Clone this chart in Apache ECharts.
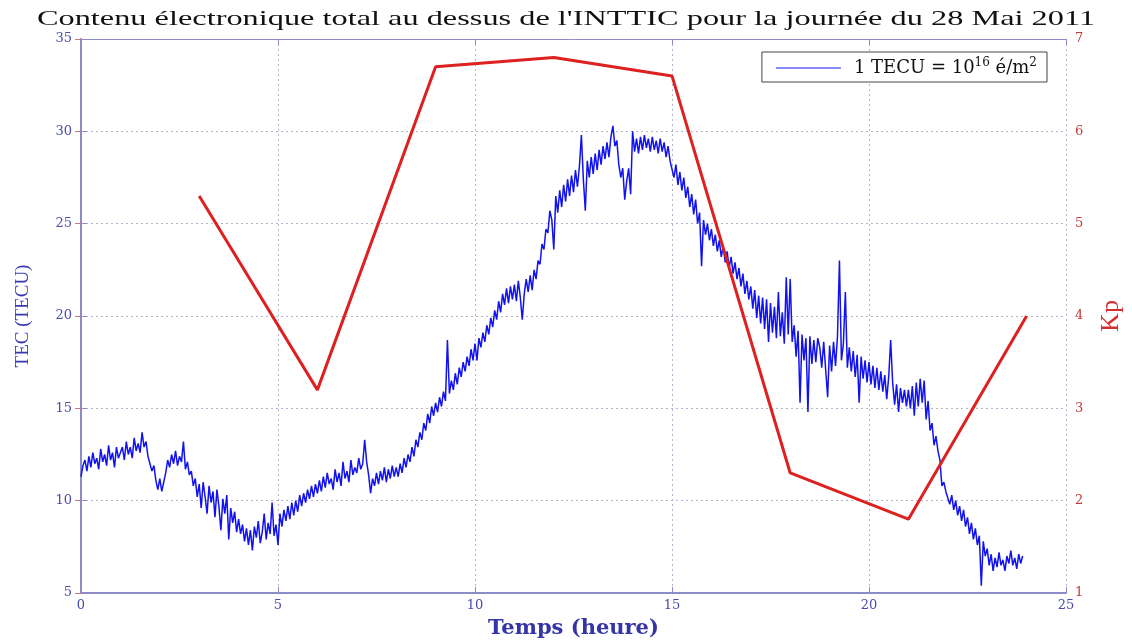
<!DOCTYPE html>
<html>
<head>
<meta charset="utf-8">
<title>TEC INTTIC 28 Mai 2011</title>
<script src="https://cdn.jsdelivr.net/npm/echarts@6/dist/echarts.min.js"></script>
<style>
  html, body { margin: 0; padding: 0; background: #fff; }
  #tec { width: 1132px; height: 644px; }
</style>
</head>
<body>
<div id="tec"></div>
<script>
// TEC relevé toutes les 0.05 h, de 0 h à 23.9 h, une ligne par heure
var tecStart = 0;
var tecStep = 0.05;
var tecValues = [
  11.3, 11.9, 12.2, 11.6, 12.4, 11.8, 12.6, 12.0, 12.3, 11.7, 12.8, 12.1, 12.5, 11.9, 13.0, 12.2, 12.6, 11.8, 12.9, 12.3,
  12.4, 12.9, 12.2, 13.2, 12.5, 12.9, 12.3, 13.4, 12.7, 13.1, 12.6, 13.7, 12.9, 13.2, 12.4, 12.0, 11.6, 11.9, 11.1, 10.6,
  11.2, 10.5, 11.0, 11.5, 12.2, 11.8, 12.5, 12.0, 12.7, 11.9, 12.4, 12.1, 13.2, 11.7, 12.1, 11.4, 11.6, 10.8, 11.2, 10.2,
  10.9, 9.6, 11.0, 10.2, 9.3, 10.8, 9.9, 10.5, 9.1, 10.6, 9.7, 8.4, 10.1, 9.3, 10.3, 7.9, 9.6, 8.8, 9.4, 8.3,
  9.0, 8.2, 8.7, 7.8, 8.5, 7.6, 8.4, 7.3, 8.6, 8.0, 8.9, 7.7, 8.3, 9.3, 7.9, 8.8, 8.2, 9.9, 8.1, 8.7,
  7.6, 9.3, 8.6, 9.5, 8.9, 9.7, 9.0, 9.9, 9.2, 10.0, 9.4, 10.3, 9.7, 10.4, 9.9, 10.6, 10.1, 10.8, 10.2, 10.9,
  10.4, 11.1, 10.5, 11.3, 10.7, 11.5, 10.9, 11.2, 10.6, 11.7, 11.0, 11.5, 10.8, 12.1, 11.2, 11.6, 11.0, 12.2, 11.4, 11.8,
  11.5, 12.3, 11.7, 12.0, 13.3, 12.1, 11.4, 10.4, 11.2, 10.8, 11.5, 10.9, 11.6, 11.1, 11.8, 11.0, 11.7, 11.2, 11.9, 11.3,
  11.8, 11.3, 12.0, 11.5, 12.3, 11.8, 12.5, 12.1, 12.9, 12.4, 13.3, 12.9, 13.7, 13.3, 14.2, 13.8, 14.7, 14.2, 15.1, 14.6,
  15.3, 14.8, 15.6, 15.1, 15.9, 15.4, 18.7, 15.8, 16.5, 16.0, 16.9, 16.3, 17.2, 16.7, 17.5, 17.0, 17.8, 17.3, 18.2, 17.6,
  18.5, 17.6, 18.8, 18.3, 19.1, 18.6, 19.5, 19.0, 19.9, 19.4, 20.3, 19.8, 20.8, 20.2, 21.2, 20.6, 21.5, 20.7, 21.6, 20.9,
  21.7, 20.8, 21.9, 21.0, 19.8, 21.2, 22.0, 21.3, 22.2, 21.4, 22.5, 22.0, 23.0, 22.8, 23.9, 23.6, 24.7, 24.5, 25.7, 25.2,
  23.6, 26.5, 25.6, 26.8, 25.9, 27.1, 26.2, 27.4, 26.5, 27.6, 26.7, 27.9, 27.0, 28.1, 29.8, 27.4, 25.7, 28.4, 27.5, 28.6,
  27.7, 28.8, 27.9, 29.0, 28.2, 29.2, 28.5, 29.4, 28.6, 29.7, 30.3, 29.2, 29.5, 28.2, 27.5, 28.0, 26.3, 27.3, 28.0, 26.6,
  30.0, 28.9, 29.6, 28.8, 29.7, 29.0, 29.8, 29.1, 29.6, 28.9, 29.7, 29.0, 29.5, 28.8, 29.6, 28.9, 29.4, 28.6, 29.2, 28.4,
  28.5, 27.5, 28.2, 27.1, 27.8, 26.8, 27.5, 26.4, 27.0, 25.9, 26.6, 25.5, 26.3, 25.0, 25.6, 22.7, 25.2, 24.4, 25.0, 24.1,
  24.7, 23.8, 24.4, 23.5, 24.1, 23.2, 23.8, 22.9, 23.5, 22.6, 23.2, 22.3, 22.9, 22.0, 22.6, 21.6, 22.3, 21.2, 21.9, 20.9,
  21.6, 20.4, 21.4, 19.9, 21.1, 19.6, 21.0, 19.3, 20.9, 18.6, 20.7, 19.1, 20.5, 18.8, 21.3, 18.9, 20.2, 18.5, 22.1, 19.0,
  22.0, 18.6, 19.5, 17.8, 19.2, 15.3, 19.0, 17.6, 18.8, 14.8, 18.9, 17.4, 18.7, 17.5, 18.8, 18.3, 17.2, 18.6, 17.1, 15.6,
  18.4, 17.0, 18.6, 17.3, 18.9, 23.0, 17.6, 18.5, 21.3, 17.2, 18.3, 17.0, 18.1, 16.7, 17.9, 15.3, 17.8, 16.6, 17.6, 16.4,
  17.5, 16.3, 17.3, 16.1, 17.2, 16.0, 17.0, 15.9, 16.8, 15.5, 16.7, 18.7, 16.4, 15.2, 16.3, 14.8, 16.1, 15.3, 16.0, 15.1,
  16.0, 15.0, 16.2, 14.6, 16.4, 15.1, 16.6, 15.3, 16.5, 14.4, 15.4, 13.8, 14.2, 13.0, 13.5, 12.7, 12.2, 10.8, 11.0, 10.5,
  10.6, 9.8, 10.3, 9.5, 10.0, 9.2, 9.7, 8.9, 9.5, 8.6, 9.1, 8.2, 8.8, 7.9, 8.5, 7.6, 8.1, 5.4, 7.8, 7.0,
  7.4, 6.5, 7.1, 6.2, 6.9, 6.4, 7.2, 6.5, 6.8, 6.2, 7.0, 6.6, 7.3, 6.5, 6.9, 6.3, 7.1, 6.6, 7.0
];

// indice Kp tri-horaire
var kpHours = [3, 6, 9, 12, 15, 18, 21, 24];
var kpValues = [5.3, 3.2, 6.7, 6.8, 6.6, 2.3, 1.8, 4.0];

var tecData = tecValues.map(function (v, i) {
  return [tecStart + i * tecStep, v];
});
var kpData = kpHours.map(function (h, i) {
  return [h, kpValues[i]];
});

var serif = '"DejaVu Serif", "Liberation Serif", serif';
var blueAxis = '#8c8cc8';
var redAxis = '#c87878';
var gridLine = { show: true, lineStyle: { color: '#b4b4cc', type: [2, 3], width: 1 } };

var myChart = echarts.init(document.getElementById('tec'));
var option;

option = {
  animation: false,
  backgroundColor: '#fff',
  graphic: [
    {
      type: 'text',
      x: 566,
      y: 8,
      scaleX: 1.47,
      style: {
        text: "Contenu électronique total au dessus de l'INTTIC pour la journée du 28 Mai 2011",
        font: '22px "Liberation Serif"',
        fill: '#111',
        textAlign: 'center',
        textVerticalAlign: 'top'
      }
    }
  ],
  legend: {
    data: [{ name: 'tec', icon: 'rect' }],
    right: 85,
    top: 52,
    padding: [5, 10, 5, 14],
    borderColor: '#444',
    borderWidth: 1,
    backgroundColor: '#fff',
    itemWidth: 65,
    itemHeight: 1,
    formatter: function () {
      return '{f|1 TECU = 10}{sup|16}{b| é/m}{sup|2}';
    },
    textStyle: {
      rich: {
        f: { fontFamily: serif, fontSize: 18, color: '#111', padding: [0, 0, 0, 8] },
        b: { fontFamily: serif, fontSize: 18, color: '#111' },
        sup: { fontFamily: serif, fontSize: 12, color: '#111', padding: [0, 0, 10, 0] }
      }
    }
  },
  grid: {
    left: 81,
    right: 64,
    top: 39,
    bottom: 51
  },
  xAxis: [
    {
      type: 'value',
      min: 0,
      max: 25,
      interval: 5,
      name: 'Temps (heure)',
      nameLocation: 'middle',
      nameGap: 25,
      nameTextStyle: { fontFamily: serif, fontSize: 21, fontWeight: 'bold', color: '#3434a8' },
      axisLine: { show: true, lineStyle: { color: blueAxis, width: 2 } },
      axisTick: { show: true, inside: true, length: 6, lineStyle: { color: blueAxis, width: 1 } },
      axisLabel: { fontFamily: serif, fontSize: 13, color: '#4a4ab0', margin: 6 },
      splitLine: gridLine
    },
    {
      type: 'value',
      position: 'top',
      min: 0,
      max: 25,
      interval: 5,
      axisLine: { show: true, lineStyle: { color: blueAxis, width: 1 } },
      axisTick: { show: true, inside: true, length: 6, lineStyle: { color: blueAxis } },
      axisLabel: { show: false },
      splitLine: { show: false }
    }
  ],
  yAxis: [
    {
      type: 'value',
      min: 5,
      max: 35,
      interval: 5,
      name: 'TEC (TECU)',
      nameLocation: 'middle',
      nameRotate: 90,
      nameGap: 48,
      nameTextStyle: { fontFamily: '"Liberation Serif", serif', fontSize: 19, color: '#3a3ab0' },
      axisLine: { show: true, lineStyle: { color: blueAxis, width: 2 } },
      axisTick: { show: true, inside: true, length: 6, lineStyle: { color: blueAxis } },
      axisLabel: { fontFamily: serif, fontSize: 13, color: '#4a4ab0', margin: 9 },
      splitLine: gridLine
    },
    {
      type: 'value',
      min: 1,
      max: 7,
      interval: 1,
      position: 'right',
      name: 'Kp',
      nameLocation: 'middle',
      nameRotate: 90,
      nameGap: 32,
      nameTextStyle: { fontFamily: '"Liberation Serif", serif', fontSize: 26, color: '#d03030' },
      axisLine: { show: true, lineStyle: { color: redAxis, width: 1 } },
      axisTick: { show: true, inside: true, length: 6, lineStyle: { color: redAxis } },
      axisLabel: { fontFamily: serif, fontSize: 13, color: '#c03a3a', margin: 9 },
      splitLine: { show: false }
    }
  ],
  series: [
    {
      name: 'tec',
      type: 'line',
      xAxisIndex: 0,
      yAxisIndex: 0,
      data: tecData,
      showSymbol: false,
      symbol: 'none',
      lineStyle: { color: '#1212f0', width: 1.5 },
      itemStyle: { color: '#1212f0' },
      z: 2
    },
    {
      name: 'Kp',
      type: 'line',
      xAxisIndex: 0,
      yAxisIndex: 1,
      data: kpData,
      showSymbol: false,
      symbol: 'none',
      lineStyle: { color: '#dd2020', width: 3 },
      itemStyle: { color: '#dd2020' },
      z: 3
    }
  ]
};

option && myChart.setOption(option);
</script>
</body>
</html>
